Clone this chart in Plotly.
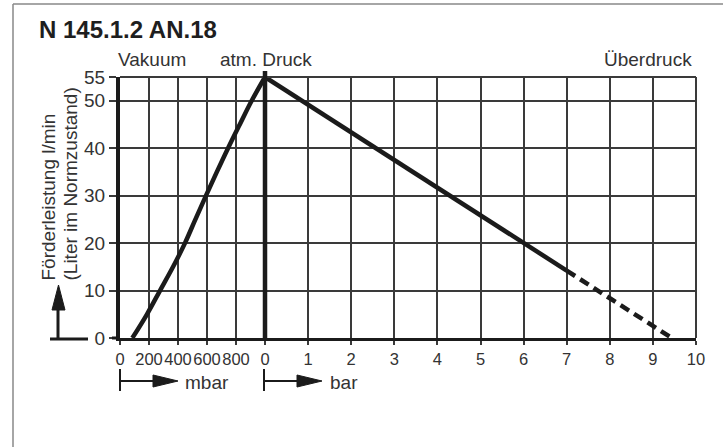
import plotly.graph_objects as go

# ---------------- data ----------------
vac_mbar = [85, 186, 276, 366, 448, 520, 593, 668, 745, 826, 908, 1000]   # vacuum side (mbar)
vac_flow = [0, 5, 10, 15, 20, 25, 30, 35, 40, 45, 50, 55]                 # l/min

over_bar_solid = [0, 6, 7]                                  # overpressure (bar)
over_flow_solid = [55, 20, 14.2]
over_bar_dash = [7, 9.44]
over_flow_dash = [14.2, 0]

mbar_ticks = [0, 200, 400, 600, 800]
bar_ticks = [0, 1, 2, 3, 4, 5, 6, 7, 8, 9, 10]
y_ticks = [0, 10, 20, 30, 40, 50, 55]

# --------------- layout constants ---------------
W, H = 727, 447
L, R, T, B = 120, 696, 77, 338
PW, PH = R - L, B - T
VAC_W = 145 / 43.1          # width of the 0..1000 mbar band in bar units
XMIN, XMAX = -VAC_W, 10

def mb(m):
    return (m - 1000) / 1000 * VAC_W

def px(x):
    return (x - L) / PW

def py(y):
    return (B - y) / PH

def dx(u):  # data x -> paper
    return (u - XMIN) / (XMAX - XMIN)

INK = "#1b1b1b"
GRID = "#3a3a3a"
TXT = "#333333"
FONT = "Liberation Sans, Arial, sans-serif"

fig = go.Figure()
fig.add_trace(go.Scatter(x=[mb(m) for m in vac_mbar], y=vac_flow, mode="lines",
                         line=dict(color=INK, width=4.5, shape="spline", smoothing=1.0),
                         hoverinfo="skip", showlegend=False))
fig.add_trace(go.Scatter(x=over_bar_solid, y=over_flow_solid, mode="lines",
                         line=dict(color=INK, width=4.5), hoverinfo="skip", showlegend=False))
fig.add_trace(go.Scatter(x=over_bar_dash, y=over_flow_dash, mode="lines",
                         line=dict(color=INK, width=4.5, dash="10px,6px"),
                         hoverinfo="skip", showlegend=False))

tickvals = [mb(m) for m in mbar_ticks] + bar_ticks
ticktext = [str(m) for m in mbar_ticks] + [str(b) for b in bar_ticks]

fig.update_layout(
    width=W, height=H,
    margin=dict(l=L, r=W - R, t=T, b=H - B, pad=0, autoexpand=False),
    paper_bgcolor="white", plot_bgcolor="white",
    font=dict(family=FONT, color=TXT, size=19),
    xaxis=dict(range=[XMIN, XMAX], tickvals=tickvals, ticktext=ticktext,
               tickangle=0, automargin=False,
               showgrid=True, gridcolor=GRID, gridwidth=2,
               showline=True, linecolor=INK, linewidth=3,
               ticks="outside", ticklen=4, tickwidth=2, tickcolor=GRID,
               tickfont=dict(size=16.5, color=TXT, family=FONT), zeroline=False,
               fixedrange=True),
    yaxis=dict(range=[0, 55], tickvals=y_ticks, ticktext=[str(v) for v in y_ticks],
               automargin=False,
               showgrid=True, gridcolor=GRID, gridwidth=2,
               showline=True, linecolor=INK, linewidth=4,
               ticks="outside", ticklen=7, tickwidth=2, tickcolor=GRID,
               tickfont=dict(size=19, color=TXT, family=FONT), zeroline=False,
               fixedrange=True),
)

shapes = []
def line(x0, y0, x1, y1, w, color=INK):
    shapes.append(dict(type="line", xref="paper", yref="paper",
                       x0=x0, y0=y0, x1=x1, y1=y1, line=dict(color=color, width=w), layer="above"))

# outer frame (top + left)
line(px(13), py(4), px(723), py(4), 1.5, "#888888")
line(px(13), py(4), px(13), py(H + 5), 1.5, "#888888")
# top and right borders of grid
line(0, 1, 1, 1, 2, GRID)
line(1, 0, 1, 1, 2, GRID)
# thick vertical at atmospheric pressure (0 bar), poking above the top
line(dx(0), 0, dx(0), py(71), 4.5)
# thick 0 tick on y axis
line(px(112), 0, 0, 0, 3)

# y-axis direction arrow
line(px(50), py(339), px(88), py(339), 3)
line(px(58), py(339), px(58), py(306), 3)
shapes.append(dict(type="path", xref="paper", yref="paper", layer="above",
                   path=f"M {px(52)},{py(310)} L {px(58.5)},{py(285)} L {px(65)},{py(310)} Z",
                   fillcolor=INK, line=dict(color=INK, width=1)))

# mbar arrow
line(px(120), py(369), px(120), py(391), 2)
line(px(120), py(381), px(160), py(381), 2)
shapes.append(dict(type="path", xref="paper", yref="paper", layer="above",
                   path=f"M {px(153)},{py(375)} L {px(178)},{py(381)} L {px(153)},{py(387)} Z",
                   fillcolor=INK, line=dict(color=INK, width=1)))
# bar arrow
line(px(264), py(369), px(264), py(391), 2)
line(px(264), py(381), px(305), py(381), 2)
shapes.append(dict(type="path", xref="paper", yref="paper", layer="above",
                   path=f"M {px(297)},{py(375)} L {px(322)},{py(381)} L {px(297)},{py(387)} Z",
                   fillcolor=INK, line=dict(color=INK, width=1)))

fig.update_layout(shapes=shapes)

def note(text, x, y, xanchor="left", yanchor="middle", size=19, bold=False, angle=0, color=TXT):
    fig.add_annotation(text=f"<b>{text}</b>" if bold else text, xref="paper", yref="paper",
                       x=x, y=y, xanchor=xanchor, yanchor=yanchor, showarrow=False,
                       textangle=angle, font=dict(family=FONT, size=size, color=color))

note("N 145.1.2 AN.18", px(37), py(29), size=24, bold=True, color="#1e1e1e")
note("Vakuum", px(116), py(60))
note("atm. Druck", px(266), py(60), xanchor="center")
note("Überdruck", px(694), py(60), xanchor="right")
note("Förderleistung l/min", px(48), py(283), xanchor="center", yanchor="bottom", size=19, angle=-90)
note("(Liter im Normzustand)", px(70), py(283), xanchor="center", yanchor="bottom", size=19, angle=-90)
note("mbar", px(183), py(382), size=19)
note("bar", px(328), py(382), size=19)

fig.write_html("out.html", config={"displayModeBar": False, "staticPlot": True},
               post_script="document.body.style.margin='0';document.body.style.overflow='hidden';")
